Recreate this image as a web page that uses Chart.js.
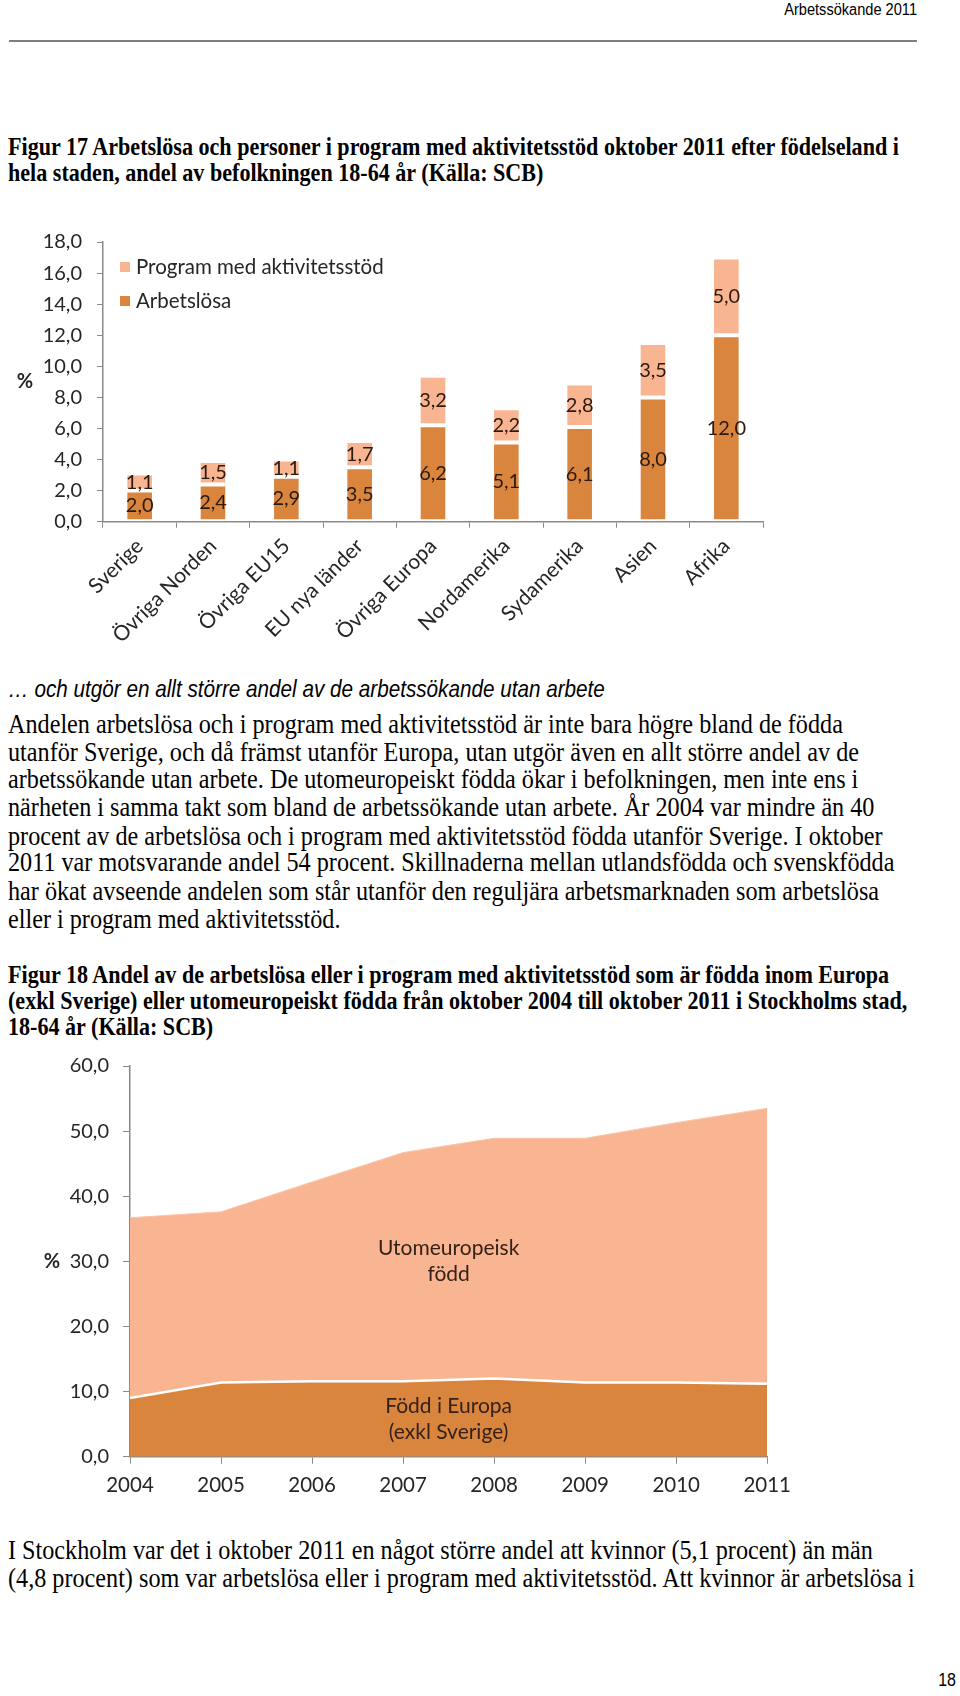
<!DOCTYPE html>
<html lang="sv">
<head>
<meta charset="utf-8">
<title>Arbetssökande 2011</title>
<script src="https://cdn.jsdelivr.net/npm/chart.js@4.4.1/dist/chart.umd.min.js"></script>
<style>
  html, body { margin: 0; padding: 0; background: #fff; }
  #page { position: relative; width: 960px; height: 1696px; overflow: hidden; }
  .t { position: absolute; left: 8px; white-space: nowrap; color: #000;
       transform: scaleY(1.17); transform-origin: 0 0; }
  .serif { font-family: "Liberation Serif", "Times New Roman", serif; font-size: 24.2px; line-height: 23.68px; }
  .cap { font-family: "Liberation Serif", "Times New Roman", serif; font-weight: bold; font-size: 22.1px; line-height: 21.6px; }
  .sans { font-family: "Liberation Sans", Arial, sans-serif; }
  #hdr { left: auto; right: 43px; top: 1px; font-size: 14.6px; line-height: 14.6px; }
  #rule { position: absolute; left: 9px; top: 40px; width: 908px; height: 2px; background: #7f7f7f; }
  #sub { top: 677px; font-size: 20.7px; line-height: 20.7px; font-style: italic; }
  #pnum { left: auto; right: 4px; top: 1671px; font-size: 16px; line-height: 16px; }
  canvas { position: absolute; left: 0; }
  #chart1 { top: 215px; }
  #chart2 { top: 1040px; }
</style>
</head>
<body>
<div id="page">
  <div class="t sans" id="hdr">Arbetssökande 2011</div>
  <div id="rule"></div>

  <div class="t cap" style="top:134px">Figur 17 Arbetslösa och personer i program med aktivitetsstöd oktober 2011 efter födelseland i<br>hela staden, andel av befolkningen 18-64 år (Källa: SCB)</div>

  <canvas id="chart1" width="800" height="450"></canvas>

  <div class="t sans" id="sub">… och utgör en allt större andel av de arbetssökande utan arbete</div>

  <div class="t serif" style="top:710px">Andelen arbetslösa och i program med aktivitetsstöd är inte bara högre bland de födda<br>utanför Sverige, och då främst utanför Europa, utan utgör även en allt större andel av de<br>arbetssökande utan arbete. De utomeuropeiskt födda ökar i befolkningen, men inte ens i<br>närheten i samma takt som bland de arbetssökande utan arbete. År 2004 var mindre än 40<br>procent av de arbetslösa och i program med aktivitetsstöd födda utanför Sverige. I oktober<br>2011 var motsvarande andel 54 procent. Skillnaderna mellan utlandsfödda och svenskfödda<br>har ökat avseende andelen som står utanför den reguljära arbetsmarknaden som arbetslösa<br>eller i program med aktivitetsstöd.</div>

  <div class="t cap" style="top:962px;line-height:21.8px">Figur 18 Andel av de arbetslösa eller i program med aktivitetsstöd som är födda inom Europa<br>(exkl Sverige) eller utomeuropeiskt födda från oktober 2004 till oktober 2011 i Stockholms stad,<br>18-64 år (Källa: SCB)</div>

  <canvas id="chart2" width="800" height="470"></canvas>

  <div class="t serif" style="top:1536px">I Stockholm var det i oktober 2011 en något större andel att kvinnor (5,1 procent) än män<br>(4,8 procent) som var arbetslösa eller i program med aktivitetsstöd. Att kvinnor är arbetslösa i</div>

  <div class="t sans" id="pnum">18</div>
</div>

<script>
// Figur 17
const kategorier = ["Sverige", "Övriga Norden", "Övriga EU15", "EU nya länder", "Övriga Europa",
  "Nordamerika", "Sydamerika", "Asien", "Afrika"];
const arbetslosa = [2.0, 2.4, 2.9, 3.5, 6.2, 5.1, 6.1, 8.0, 12.0];
const program = [1.1, 1.5, 1.1, 1.7, 3.2, 2.2, 2.8, 3.5, 5.0];

// Figur 18
const ar = ["2004", "2005", "2006", "2007", "2008", "2009", "2010", "2011"];
const foddEuropa = [9.0, 11.4, 11.6, 11.6, 12.0, 11.4, 11.4, 11.2];
const utomeuropeisk = [27.7, 26.2, 30.6, 35.1, 36.9, 37.5, 39.9, 42.3];
const ytor = [
  { rader: ["Utomeuropeisk", "född"], x: 3.5, y: 30 },
  { rader: ["Född i Europa", "(exkl Sverige)"], x: 3.5, y: 5.8 },
];

const morkOrange = "#da853e";
const ljusOrange = "#f9b591";
const axelFarg = "#8a8a8a";
const textFarg = "#262626";

function komma(v) {
  return v.toFixed(1).replace(".", ",");
}

Chart.defaults.font.family = "Lato";
Chart.defaults.font.size = 20;
Chart.defaults.color = textFarg;

// procenttecken bredvid y-axeln
const procentPlugin = {
  id: "procent",
  afterDraw(chart, args, opts) {
    const ctx = chart.ctx;
    const a = chart.chartArea;
    ctx.save();
    ctx.font = "bold 20px Lato";
    ctx.fillStyle = textFarg;
    ctx.textAlign = "center";
    ctx.textBaseline = "middle";
    ctx.fillText("%", opts.x, (a.top + a.bottom) / 2);
    ctx.restore();
  },
};

const stapelEtiketter = {
  id: "stapelEtiketter",
  afterDatasetsDraw(chart) {
    const ctx = chart.ctx;
    ctx.save();
    ctx.font = "20px Lato";
    ctx.fillStyle = "#2a1a10";
    ctx.textAlign = "center";
    ctx.textBaseline = "middle";
    chart.data.datasets.forEach((ds, i) => {
      chart.getDatasetMeta(i).data.forEach((bar, j) => {
        ctx.fillText(komma(ds.data[j]), bar.x, (bar.y + bar.base) / 2);
      });
    });
    ctx.restore();
  },
};

// legenden ligger inne i diagramytan, översta serien först
const innerLegend = {
  id: "innerLegend",
  afterDraw(chart) {
    const ctx = chart.ctx;
    const a = chart.chartArea;
    const ds = chart.data.datasets.slice().reverse();
    ctx.save();
    ctx.font = "20.5px Lato";
    ctx.textBaseline = "middle";
    ds.forEach((d, i) => {
      const y = a.top + 25 + i * 34;
      ctx.fillStyle = d.backgroundColor;
      ctx.fillRect(a.left + 17, y - 5, 10, 10);
      ctx.fillStyle = textFarg;
      ctx.fillText(d.label, a.left + 33, y);
    });
    ctx.restore();
  },
};

new Chart(document.getElementById("chart1"), {
  type: "bar",
  data: {
    labels: kategorier,
    datasets: [
      {
        label: "Arbetslösa",
        data: arbetslosa,
        backgroundColor: morkOrange,
        borderColor: "#ffffff",
        borderWidth: 2,
        borderSkipped: false,
      },
      {
        label: "Program med aktivitetsstöd",
        data: program,
        backgroundColor: ljusOrange,
        borderColor: "#ffffff",
        borderWidth: 2,
        borderSkipped: false,
      },
    ],
  },
  options: {
    responsive: false,
    animation: false,
    layout: { padding: { top: 21.7, right: 37, bottom: 0, left: 0 } },
    categoryPercentage: 1,
    barPercentage: 0.39,
    plugins: {
      legend: { display: false },
      tooltip: { enabled: false },
      procent: { x: 25 },
    },
    scales: {
      x: {
        stacked: true,
        afterFit: (s) => { s.height = 143.3; },
        grid: { drawOnChartArea: false, tickLength: 6, color: axelFarg, offset: true },
        border: { color: axelFarg, width: 1.5 },
        ticks: { minRotation: 45, maxRotation: 45, padding: 6, autoSkip: false, font: { size: 21 } },
      },
      y: {
        stacked: true,
        min: 0,
        max: 18,
        afterFit: (s) => { s.width = 103; },
        grid: { drawOnChartArea: false, tickLength: 6, color: axelFarg },
        border: { color: axelFarg, width: 1.5 },
        ticks: { stepSize: 2, padding: 15, callback: (v) => komma(v) },
      },
    },
  },
  plugins: [stapelEtiketter, innerLegend, procentPlugin],
});

const ytEtiketter = {
  id: "ytEtiketter",
  afterDatasetsDraw(chart) {
    const ctx = chart.ctx;
    const sx = chart.scales.x;
    const sy = chart.scales.y;
    ctx.save();
    ctx.font = "21px Lato";
    ctx.fillStyle = "#33211a";
    ctx.textAlign = "center";
    ctx.textBaseline = "middle";
    ytor.forEach((yta) => {
      const x = sx.getPixelForValue(yta.x);
      const y = sy.getPixelForValue(yta.y);
      yta.rader.forEach((rad, i) => {
        ctx.fillText(rad, x, y + (i - (yta.rader.length - 1) / 2) * 26);
      });
    });
    ctx.restore();
  },
};

new Chart(document.getElementById("chart2"), {
  type: "line",
  data: {
    labels: ar,
    datasets: [
      {
        label: "Född i Europa (exkl Sverige)",
        data: foddEuropa,
        fill: "origin",
        backgroundColor: morkOrange,
        borderColor: "#ffffff",
        borderWidth: 2.5,
        pointRadius: 0,
        tension: 0,
      },
      {
        label: "Utomeuropeisk född",
        data: utomeuropeisk,
        fill: "-1",
        backgroundColor: ljusOrange,
        borderColor: "#fbc5a8",
        borderWidth: 1,
        pointRadius: 0,
        tension: 0,
      },
    ],
  },
  options: {
    responsive: false,
    animation: false,
    layout: { padding: { top: 24.3, right: 27, bottom: 0, left: 0 } },
    plugins: {
      legend: { display: false },
      tooltip: { enabled: false },
      procent: { x: 52 },
    },
    scales: {
      x: {
        offset: false,
        afterFit: (s) => { s.height = 53.3; },
        grid: { drawOnChartArea: false, tickLength: 7, color: axelFarg },
        border: { color: axelFarg, width: 1.5 },
        ticks: { padding: 9, autoSkip: false, maxRotation: 0, font: { size: 20.5 } },
      },
      y: {
        stacked: true,
        min: 0,
        max: 60,
        afterFit: (s) => { s.width = 130; },
        grid: { drawOnChartArea: false, tickLength: 7, color: axelFarg },
        border: { color: axelFarg, width: 1.5 },
        ticks: { stepSize: 10, padding: 14, callback: (v) => komma(v) },
      },
    },
  },
  plugins: [ytEtiketter, procentPlugin],
});
</script>
</body>
</html>
